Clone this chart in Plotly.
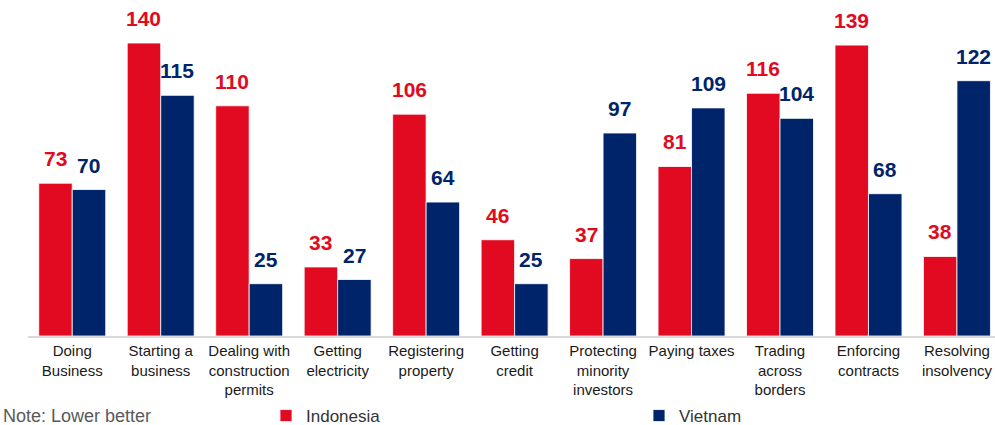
import plotly.graph_objects as go

# Ease of Doing Business rankings by indicator
categories = [
    "Doing<br>Business",
    "Starting a<br>business",
    "Dealing with<br>construction<br>permits",
    "Getting<br>electricity",
    "Registering<br>property",
    "Getting<br>credit",
    "Protecting<br>minority<br>investors",
    "Paying taxes",
    "Trading<br>across<br>borders",
    "Enforcing<br>contracts",
    "Resolving<br>insolvency",
]
indonesia = [73, 140, 110, 33, 106, 46, 37, 81, 116, 139, 38]
vietnam = [70, 115, 25, 27, 64, 25, 97, 109, 104, 68, 122]

RED = "#E20A20"
NAVY = "#00246A"
FONT = "Liberation Sans, Arial, sans-serif"

W, H = 995, 425
ML, MR, MT, MB = 28, 0, 20, 89
X_RANGE = [-0.5, 10.43]
Y_RANGE = [0, 151]
BARGAP = 0.243

fig = go.Figure()
fig.add_trace(go.Bar(
    name="Indonesia", x=categories, y=indonesia,
    marker=dict(color=RED, line=dict(color="white", width=0.8)),
))
fig.add_trace(go.Bar(
    name="Vietnam", x=categories, y=vietnam,
    marker=dict(color=NAVY, line=dict(color="white", width=0.8)),
))

# value labels above each bar, offset to the bar's half of the group
plot_w = W - ML - MR
plot_h = H - MT - MB
unit_px = plot_w / (X_RANGE[1] - X_RANGE[0])
half = unit_px * (1 - BARGAP) / 4
for values, color, sign in ((indonesia, RED, -1), (vietnam, NAVY, 1)):
    for cat, v in zip(categories, values):
        fig.add_annotation(
            x=cat, y=v, xref="x", yref="y",
            text=f"<b>{v}</b>", showarrow=False,
            xanchor="center", yanchor="bottom",
            xshift=sign * half, yshift=11,
            font=dict(family=FONT, size=21, color=color),
        )

# footnote
fig.add_annotation(
    text="Note: Lower better", showarrow=False,
    xref="paper", yref="paper",
    x=-(ML - 1) / plot_w, y=-(MB + 2.5) / plot_h,
    xanchor="left", yanchor="bottom",
    font=dict(family=FONT, size=18, color="#595959"),
)

fig.update_layout(
    width=W, height=H,
    margin=dict(l=ML, r=MR, t=MT, b=MB, autoexpand=False),
    paper_bgcolor="white", plot_bgcolor="white",
    barmode="group", bargap=BARGAP, bargroupgap=0,
    font=dict(family=FONT, color="#1a1a1a"),
    showlegend=True,
    legend=dict(
        orientation="h",
        xref="container", yref="paper",
        x=266 / W, y=-(MB + 9) / plot_h, xanchor="left", yanchor="bottom",
        entrywidth=328, entrywidthmode="pixels",
        itemwidth=30,
        font=dict(family=FONT, size=17, color="#333333"),
        bgcolor="rgba(0,0,0,0)",
    ),
    xaxis=dict(
        range=X_RANGE, showline=True, linecolor="#d9d9d9", linewidth=2,
        ticks="", tickfont=dict(family=FONT, size=15, color="#1a1a1a"),
        showgrid=False, fixedrange=True, automargin=False,
    ),
    yaxis=dict(
        range=Y_RANGE, visible=False, showgrid=False, zeroline=False,
        automargin=False,
    ),
)

fig.write_html("out.html")
